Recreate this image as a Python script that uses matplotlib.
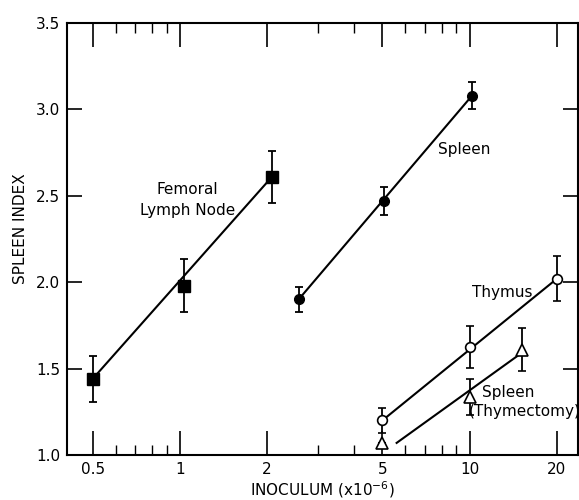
import numpy as np
import matplotlib.pyplot as plt
from matplotlib.ticker import FixedLocator, NullFormatter

# datos
femoral_x = [0.5, 1.03, 2.08]
femoral_y = [1.44, 1.98, 2.61]
femoral_err = [0.135, 0.155, 0.15]

spleen_x = [2.57, 5.05, 10.2]
spleen_y = [1.90, 2.47, 3.08]
spleen_err = [0.075, 0.08, 0.08]

thymus_x = [5.0, 10.0, 20.0]
thymus_y = [1.20, 1.625, 2.02]
thymus_err = [0.07, 0.12, 0.13]

thymect_x = [5.0, 10.0, 15.2]
thymect_y = [1.07, 1.335, 1.61]
thymect_err = [0.0, 0.105, 0.125]
thymect_line_x = [5.6, 15.1]
thymect_line_y = [1.07, 1.59]

x_major = [0.5, 1, 2, 5, 10, 20]
x_major_labels = ["0.5", "1", "2", "5", "10", "20"]
x_minor = [0.6, 0.7, 0.8, 0.9, 3, 4, 6, 7, 8, 9]
y_major = [1.0, 1.5, 2.0, 2.5, 3.0, 3.5]

plt.rcParams['font.family'] = ['DejaVu Sans']

fig = plt.figure(figsize=(5.79, 5.0), dpi=100)
ax = fig.add_axes([0.1157, 0.09, 0.882, 0.864])

ax.set_xscale('log')
ax.set_xlim(0.408, 23.6)
ax.set_ylim(1.0, 3.5)

# líneas
ax.plot([femoral_x[0], femoral_x[-1]], [femoral_y[0], femoral_y[-1]], color='black', lw=1.5)
ax.plot([spleen_x[0], spleen_x[-1]], [spleen_y[0], spleen_y[-1]], color='black', lw=1.5)
ax.plot([thymus_x[0], thymus_x[-1]], [thymus_y[0], thymus_y[-1]], color='black', lw=1.5)
ax.plot(thymect_line_x, thymect_line_y, color='black', lw=1.5)

# puntos con barras de error
eb = dict(color='black', ecolor='black', elinewidth=1.3, capsize=3, capthick=1.3, linestyle='none')
ax.errorbar(femoral_x, femoral_y, yerr=femoral_err, marker='s', ms=9, mfc='black', mec='black', **eb)
ax.errorbar(spleen_x, spleen_y, yerr=spleen_err, marker='o', ms=7, mfc='black', mec='black', **eb)
ax.errorbar(thymus_x, thymus_y, yerr=thymus_err, marker='o', ms=7, mfc='white', mec='black', mew=1.2, **eb)
ax.errorbar(thymect_x, thymect_y, yerr=thymect_err, marker='^', ms=9, mfc='white', mec='black', mew=1.2, **eb)

# etiquetas de las curvas
ax.text(1.065, 2.475, "Femoral\nLymph Node", ha='center', va='center', fontsize=11, linespacing=1.45)
ax.text(7.75, 2.77, "Spleen", ha='left', va='center', fontsize=11)
ax.text(10.2, 1.94, "Thymus", ha='left', va='center', fontsize=11)
ax.text(11.0, 1.36, "Spleen", ha='left', va='center', fontsize=11)
ax.text(9.9, 1.25, "(Thymectomy)", ha='left', va='center', fontsize=11)

# ejes
ax.xaxis.set_major_locator(FixedLocator(x_major))
ax.xaxis.set_minor_locator(FixedLocator(x_minor))
ax.set_xticklabels(x_major_labels)
ax.xaxis.set_minor_formatter(NullFormatter())
ax.set_yticks(y_major)
ax.set_yticklabels([f"{v:.1f}" for v in y_major])

ax.tick_params(axis='x', which='major', direction='in', length=17, width=1.2, top=True, labelsize=11, pad=5)
ax.tick_params(axis='x', which='minor', direction='in', length=7, width=1.0, top=True)
ax.tick_params(axis='y', which='major', direction='in', length=11, width=1.2, right=True, labelsize=11, pad=5)
ax.tick_params(axis='y', which='minor', left=False, right=False)

for s in ax.spines.values():
    s.set_linewidth(1.5)

ax.set_xlabel("INOCULUM (x10$^{-6}$)", fontsize=11)
ax.xaxis.set_label_coords(0.5, -0.056)
ax.set_ylabel("SPLEEN INDEX", fontsize=11)
ax.yaxis.set_label_coords(-0.076, 0.525)

fig.savefig("out.png", dpi=100)
